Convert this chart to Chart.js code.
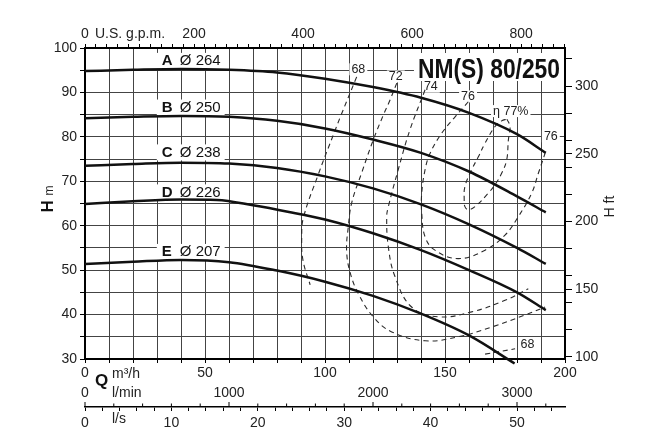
<!DOCTYPE html>
<html>
<head>
<meta charset="utf-8">
<script src="https://cdn.jsdelivr.net/npm/chart.js@4.4.0/dist/chart.umd.min.js"></script>
<style>
  html, body { margin: 0; padding: 0; background: #fff; }
</style>
</head>
<body>
<canvas id="chart" width="655" height="437"></canvas>
<script>
const FONT = '"Liberation Sans", Arial, sans-serif'
const M3H_TO_GPM = 4.4029
const M_TO_FT = 3.28084
const M3H_TO_LMIN = 1000 / 60
const M3H_TO_LS = 1 / 3.6

// Q-H curves (Q in m3/h, H in m)
const qA = [0, 20, 40, 60, 80, 100, 120, 140, 160, 180, 192]
const hA = [94.8, 95.1, 95.3, 95.1, 94.5, 93.1, 91.2, 88.8, 85.4, 80.6, 76.4]
const qB = [0, 20, 40, 60, 80, 100, 120, 140, 160, 180, 192]
const hB = [84.2, 84.5, 84.7, 84.5, 83.6, 81.9, 79.4, 76.4, 72.2, 66.6, 63.0]
const qC = [0, 20, 40, 60, 80, 100, 120, 140, 160, 180, 192]
const hC = [73.5, 73.9, 74.2, 74.0, 73.0, 71.1, 68.4, 64.8, 60.3, 55.0, 51.4]
const qD = [0, 20, 40, 55, 70, 85, 100, 120, 140, 160, 180, 192]
const hD = [64.9, 65.5, 65.9, 65.8, 64.6, 63.1, 61.4, 58.3, 54.5, 50.0, 45.0, 41.0]
const qE = [0, 20, 40, 60, 80, 100, 120, 140, 160, 179]
const hE = [51.4, 51.9, 52.3, 51.8, 49.9, 47.4, 44.2, 40.2, 35.3, 29.0]

const curveNames = ['A', 'B', 'C', 'D', 'E']
const curveDiameters = ['Ø 264', 'Ø 250', 'Ø 238', 'Ø 226', 'Ø 207']
const curveLabelQ = 32
const curveLabelH = [97.1, 86.6, 76.5, 67.5, 54.1]

// efficiency contours
const q68a = [113.2, 106.7, 103.8, 97.1, 91.0, 90.3, 90.8, 93.8]
const h68a = [93.5, 84.9, 80.9, 71.4, 61.8, 57.5, 52.3, 46.7]
const q68b = [166.7, 179.2]
const h68b = [31.1, 32.3]
const q72 = [129.9, 127.1, 124.3, 120.1, 115.4, 111.1, 109.7, 109.0, 110.4, 113.9, 120.1, 127.8, 141.7, 155.5, 169.5, 183.3, 191.7]
const h72 = [92.1, 88.3, 84.9, 79.3, 72.1, 65.1, 59.7, 54.5, 49.6, 44.7, 39.5, 36.1, 34.1, 35.0, 37.2, 39.9, 41.7]
const q74 = [141.7, 135.4, 130.5, 126.4, 125.7, 126.4, 129.2, 136.1, 147.2, 161.1, 175.0, 184.7]
const h74 = [90.6, 81.6, 72.6, 64.3, 62.0, 55.2, 48.5, 41.7, 39.5, 40.6, 43.2, 45.8]
const q76 = [159.7, 154.2, 148.6, 143.8, 141.7, 140.3, 140.3, 141.7, 145.8, 155.5, 166.7, 175.0, 180.5, 186.1, 188.9, 191.7]
const h76 = [87.9, 84.5, 80.8, 76.3, 72.6, 67.3, 62.8, 57.5, 54.5, 52.6, 54.5, 57.9, 62.0, 67.3, 71.8, 76.3]
const q77 = [175.8, 177.1, 176.4, 175.7, 173.6, 170.8, 168.0, 162.5, 159.7, 158.3, 158.0, 158.3, 161.1, 163.9, 166.7, 170.8, 173.6, 175.8]
const h77 = [84.0, 82.3, 79.3, 74.8, 71.8, 69.2, 67.3, 64.3, 63.6, 64.3, 65.8, 68.8, 72.6, 75.5, 78.6, 82.3, 83.6, 84.0]

const effLabels = ['68', '72', '74', '76', 'η 77%', '76', '68']
const effLabelQ = [113.9, 129.5, 144.1, 159.6, 177.4, 194.1, 184.4]
const effLabelH = [95.2, 93.6, 91.3, 89.1, 85.8, 80.1, 33.2]

const ftTicks = [100, 120, 140, 150, 160, 180, 200, 220, 240, 250, 260, 280, 300, 320]

const title = 'NM(S) 80/250'

const toPoints = (qs, hs) => qs.map((q, i) => ({ x: q, y: hs[i] }))

const headCurve = (qs, hs) => ({
    data: toPoints(qs, hs),
    showLine: true,
    borderColor: '#111',
    borderWidth: 2.5,
    pointRadius: 0,
    cubicInterpolationMode: 'monotone',
    clip: false
})

const effCurve = (qs, hs) => ({
    data: toPoints(qs, hs),
    showLine: true,
    borderColor: '#2a2a2a',
    borderWidth: 1.1,
    borderDash: [5, 4],
    pointRadius: 0,
    tension: 0.4
})

// white boxes behind labels, then the labels themselves
const labelsPlugin = {
    id: 'chartLabels',
    beforeDatasetsDraw: (chart) => {
        const { ctx, chartArea, scales: { x, y } } = chart
        ctx.save()
        ctx.fillStyle = '#fff'
        curveNames.forEach((name, i) => {
            const px = x.getPixelForValue(curveLabelQ)
            const py = y.getPixelForValue(curveLabelH[i])
            ctx.font = `15px ${FONT}`
            const w = 18 + ctx.measureText(curveDiameters[i]).width
            ctx.fillRect(px - 5, py - 8, w + 9, 16)
        })
        ctx.font = `12.5px ${FONT}`
        effLabels.forEach((t, i) => {
            const px = x.getPixelForValue(effLabelQ[i])
            const py = y.getPixelForValue(effLabelH[i])
            const w = ctx.measureText(t).width
            ctx.fillRect(px - w / 2 - 2, py - 6, w + 4, 12)
        })
        ctx.font = `bold 28px ${FONT}`
        const tw = ctx.measureText(title).width * 0.815
        ctx.fillRect(chartArea.right - 5 - tw - 4, chartArea.top + 5, tw + 8, 28)
        ctx.restore()
    },
    afterDatasetsDraw: (chart) => {
        const { ctx, chartArea, scales: { x, y } } = chart
        ctx.save()
        ctx.fillStyle = '#111'
        ctx.textBaseline = 'middle'
        ctx.textAlign = 'left'
        curveNames.forEach((name, i) => {
            const px = x.getPixelForValue(curveLabelQ)
            const py = y.getPixelForValue(curveLabelH[i])
            ctx.font = `bold 15px ${FONT}`
            ctx.fillText(name, px, py)
            ctx.font = `15px ${FONT}`
            ctx.fillText(curveDiameters[i], px + 18, py)
        })
        ctx.textAlign = 'center'
        ctx.font = `12.5px ${FONT}`
        ctx.fillStyle = '#222'
        effLabels.forEach((t, i) => {
            ctx.fillText(t, x.getPixelForValue(effLabelQ[i]), y.getPixelForValue(effLabelH[i]))
        })
        // model name, condensed bold
        ctx.save()
        ctx.fillStyle = '#111'
        ctx.textAlign = 'right'
        ctx.textBaseline = 'alphabetic'
        ctx.font = `bold 28px ${FONT}`
        ctx.translate(chartArea.right - 5, chartArea.top + 29.5)
        ctx.scale(0.815, 1)
        ctx.fillText(title, 0, 0)
        ctx.restore()
        ctx.restore()
    },
    afterDraw: (chart) => {
        const { ctx, chartArea, scales: { xlmin, xls } } = chart
        ctx.save()
        // l/min tick marks above the l/s line
        ctx.strokeStyle = '#000'
        ctx.lineWidth = 1
        xlmin.ticks.forEach((t) => {
            const px = xlmin.getPixelForValue(t.value)
            const len = t.value % 1000 === 0 ? 5 : 3.5
            ctx.beginPath()
            ctx.moveTo(px, xls.top)
            ctx.lineTo(px, xls.top - len)
            ctx.stroke()
        })

        ctx.fillStyle = '#222'
        ctx.textBaseline = 'middle'
        ctx.textAlign = 'left'
        ctx.font = `14px ${FONT}`
        ctx.fillText('U.S. g.p.m.', chartArea.left + 10, chartArea.top - 14)
        ctx.fillText('m³/h', chartArea.left + 27, chartArea.bottom + 15)
        ctx.fillText('l/min', chartArea.left + 27, chartArea.bottom + 34)
        ctx.fillText('l/s', chartArea.left + 27, chartArea.bottom + 60)
        ctx.font = `bold 17px ${FONT}`
        ctx.fillStyle = '#111'
        ctx.fillText('Q', chartArea.left + 10, chartArea.bottom + 22)

        // left axis title, reads bottom to top
        ctx.save()
        ctx.textBaseline = 'alphabetic'
        ctx.translate(53, (chartArea.top + chartArea.bottom) / 2 + 9)
        ctx.rotate(-Math.PI / 2)
        ctx.font = `bold 17px ${FONT}`
        ctx.fillText('H', 0, 0)
        ctx.font = `12px ${FONT}`
        ctx.fillStyle = '#222'
        ctx.fillText('m', 17, 0)
        ctx.restore()

        // right axis title
        ctx.save()
        ctx.textBaseline = 'alphabetic'
        ctx.fillStyle = '#222'
        ctx.translate(chartArea.right + 49, (chartArea.top + chartArea.bottom) / 2 + 14)
        ctx.rotate(-Math.PI / 2)
        ctx.font = `14px ${FONT}`
        ctx.fillText('H ft', 0, 0)
        ctx.restore()
        ctx.restore()
    }
}

Chart.defaults.font.family = FONT
Chart.defaults.font.size = 14
Chart.defaults.color = '#222'

const labelEvery = (step) => (value) => (Math.abs(value % step) < 1e-6 ? String(value) : '')

new Chart(document.getElementById('chart'), {
    type: 'scatter',
    data: {
        datasets: [
            headCurve(qA, hA),
            headCurve(qB, hB),
            headCurve(qC, hC),
            headCurve(qD, hD),
            headCurve(qE, hE),
            effCurve(q68a, h68a),
            effCurve(q68b, h68b),
            effCurve(q72, h72),
            effCurve(q74, h74),
            effCurve(q76, h76),
            effCurve(q77, h77)
        ]
    },
    options: {
        responsive: false,
        animation: false,
        layout: { padding: 0 },
        plugins: {
            legend: { display: false },
            tooltip: { enabled: false }
        },
        scales: {
            x: {
                type: 'linear',
                position: 'bottom',
                weight: 0,
                min: 0,
                max: 200,
                ticks: { stepSize: 10, autoSkip: false, maxRotation: 0, padding: 2, callback: labelEvery(50) },
                grid: { color: '#444', lineWidth: 1, tickLength: 4, tickColor: '#000' },
                border: { color: '#000', width: 2 },
                afterFit: (scale) => { scale.height = 23 }
            },
            xlmin: {
                type: 'linear',
                position: 'bottom',
                weight: 1,
                min: 0,
                max: 200 * M3H_TO_LMIN,
                ticks: { stepSize: 200, autoSkip: false, maxRotation: 0, padding: 3, includeBounds: false, callback: labelEvery(1000) },
                grid: { display: false, drawTicks: false },
                border: { display: false },
                afterFit: (scale) => { scale.height = 25 }
            },
            xls: {
                type: 'linear',
                position: 'bottom',
                weight: 2,
                min: 0,
                max: 200 * M3H_TO_LS,
                ticks: { stepSize: 2, autoSkip: false, maxRotation: 0, padding: 4, includeBounds: false, callback: labelEvery(10) },
                grid: { drawOnChartArea: false, tickLength: 4, tickColor: '#000' },
                border: { color: '#000', width: 1.6 },
                afterFit: (scale) => { scale.height = 30 }
            },
            xgpm: {
                type: 'linear',
                position: 'top',
                min: 0,
                max: 200 * M3H_TO_GPM,
                ticks: { stepSize: 20, autoSkip: false, maxRotation: 0, padding: 1, includeBounds: false, callback: labelEvery(200) },
                grid: { drawOnChartArea: false, tickLength: 4, tickColor: '#000' },
                border: { color: '#000', width: 2 },
                afterFit: (scale) => { scale.height = 48 }
            },
            y: {
                type: 'linear',
                position: 'left',
                min: 30,
                max: 100,
                ticks: { stepSize: 5, autoSkip: false, padding: 3, callback: labelEvery(10) },
                grid: { color: '#444', lineWidth: 1, tickLength: 5, tickColor: '#000' },
                border: { color: '#000', width: 2 },
                afterFit: (scale) => { scale.width = 85 }
            },
            yft: {
                type: 'linear',
                position: 'right',
                min: 30 * M_TO_FT,
                max: 100 * M_TO_FT,
                afterBuildTicks: (scale) => { scale.ticks = ftTicks.map(v => ({ value: v })) },
                ticks: { autoSkip: false, padding: 3, callback: labelEvery(50) },
                grid: { drawOnChartArea: false, tickLength: 7, tickColor: '#000' },
                border: { color: '#000', width: 2 },
                afterFit: (scale) => { scale.width = 90 }
            }
        }
    },
    plugins: [labelsPlugin]
})
</script>
</body>
</html>
